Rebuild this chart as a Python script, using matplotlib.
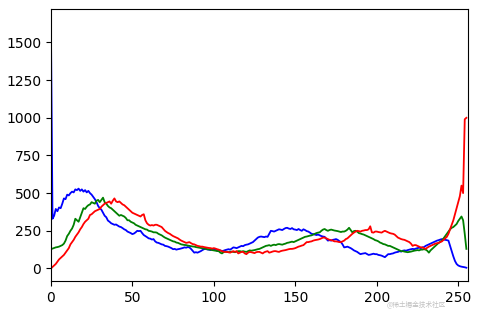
import numpy as np
import matplotlib
matplotlib.use("Agg")
import matplotlib.pyplot as plt

# per-channel histogram counts, bins 0..255
blue = [
    1640, 330, 350, 395, 380, 405, 400, 430, 465, 460, 490, 485, 500, 510, 505, 525,
    520, 530, 515, 525, 510, 520, 505, 515, 500, 490, 475, 460, 440, 415, 400, 390,
    370, 350, 340, 318, 310, 300, 295, 290, 292, 285, 278, 275, 268, 260, 255, 245,
    240, 235, 228, 232, 240, 250, 248, 250, 235, 222, 215, 208, 200, 198, 192, 195,
    180, 172, 170, 165, 160, 158, 150, 148, 145, 140, 135, 128, 130, 125, 128, 130,
    133, 136, 140, 138, 142, 140, 130, 118, 105, 108, 105, 110, 115, 122, 128, 130,
    126, 125, 122, 128, 130, 125, 118, 115, 120, 115, 118, 122, 125, 128, 125, 132,
    140, 138, 135, 140, 145, 150, 148, 155, 158, 160, 165, 170, 175, 185, 195, 205,
    210, 212, 210, 208, 212, 210, 230, 250, 248, 245, 250, 255, 260, 258, 255, 262,
    268, 270, 265, 262, 268, 260, 258, 255, 262, 255, 250, 260, 255, 248, 245, 238,
    230, 228, 225, 222, 225, 220, 215, 212, 210, 198, 185, 188, 185, 190, 192, 195,
    190, 182, 175, 160, 140, 142, 145, 140, 135, 128, 120, 115, 110, 102, 95, 98,
    100, 102, 96, 90, 92, 95, 98, 95, 95, 90, 88, 85, 80, 75, 85, 95,
    95, 98, 100, 105, 108, 110, 115, 112, 118, 120, 118, 122, 125, 128, 130, 128,
    132, 135, 138, 135, 140, 142, 150, 155, 160, 165, 170, 175, 180, 185, 188, 192,
    195, 192, 190, 188, 185, 150, 115, 80, 50, 30, 20, 15, 12, 10, 8, 5,
]
green = [
    128, 132, 136, 140, 142, 145, 150, 155, 165, 185, 215, 230, 250, 265, 290, 330,
    320, 310, 340, 370, 400, 395, 410, 420, 425, 440, 435, 430, 450, 455, 440, 455,
    470, 440, 430, 415, 405, 400, 390, 380, 370, 360, 350, 355, 350, 345, 335, 320,
    320, 310, 305, 300, 290, 285, 280, 275, 270, 265, 260, 258, 250, 248, 245, 240,
    240, 238, 230, 225, 220, 212, 205, 200, 195, 190, 185, 180, 178, 172, 170, 165,
    160, 158, 156, 155, 152, 150, 148, 146, 145, 142, 140, 138, 136, 135, 132, 130,
    128, 126, 125, 122, 120, 118, 116, 115, 105, 100, 108, 112, 110, 108, 110, 112,
    110, 108, 112, 115, 115, 112, 115, 112, 110, 115, 120, 118, 120, 122, 125, 128,
    130, 135, 140, 145, 150, 152, 155, 150, 155, 158, 155, 160, 162, 160, 158, 162,
    165, 170, 172, 175, 178, 175, 180, 185, 190, 195, 200, 205, 210, 212, 215, 218,
    220, 225, 230, 235, 238, 240, 250, 258, 262, 255, 250, 255, 258, 255, 252, 250,
    248, 245, 242, 245, 245, 250, 258, 270, 255, 240, 248, 250, 245, 235, 232, 228,
    225, 220, 215, 210, 205, 200, 195, 188, 185, 180, 172, 168, 162, 160, 155, 150,
    150, 145, 140, 135, 130, 125, 120, 115, 115, 112, 110, 108, 110, 112, 115, 118,
    120, 122, 120, 125, 125, 128, 125, 118, 105, 120, 130, 140, 150, 160, 170, 178,
    185, 200, 215, 230, 245, 260, 270, 275, 285, 295, 315, 330, 345, 320, 230, 130,
]
red = [
    0, 10, 20, 30, 45, 60, 70, 80, 90, 105, 120, 135, 160, 175, 190, 210,
    225, 240, 260, 275, 295, 310, 320, 330, 355, 360, 370, 380, 385, 390, 395, 410,
    420, 430, 435, 440, 445, 430, 450, 465, 445, 440, 445, 435, 425, 420, 410, 400,
    390, 380, 370, 365, 360, 355, 350, 345, 355, 360, 320, 300, 290, 285, 288, 285,
    290, 290, 285, 280, 275, 262, 250, 242, 235, 230, 222, 215, 210, 205, 200, 192,
    185, 180, 175, 170, 172, 175, 168, 162, 160, 155, 150, 148, 145, 145, 142, 140,
    138, 136, 135, 132, 135, 132, 128, 125, 120, 115, 112, 110, 110, 108, 105, 110,
    115, 110, 115, 100, 105, 110, 110, 100, 95, 105, 110, 108, 105, 102, 108, 110,
    110, 105, 100, 108, 112, 115, 105, 108, 112, 115, 115, 112, 110, 115, 118, 120,
    122, 125, 128, 130, 130, 132, 135, 140, 145, 148, 152, 155, 165, 175, 175, 178,
    180, 185, 188, 190, 192, 195, 200, 205, 205, 200, 195, 190, 188, 185, 180, 180,
    178, 175, 175, 180, 185, 195, 200, 210, 220, 230, 238, 245, 250, 248, 245, 250,
    252, 255, 255, 260, 280, 240, 238, 245, 245, 242, 240, 238, 245, 250, 245, 240,
    235, 232, 230, 225, 215, 205, 200, 195, 192, 190, 185, 180, 175, 165, 150, 155,
    155, 150, 145, 140, 140, 135, 130, 138, 145, 150, 155, 160, 165, 168, 170, 175,
    180, 190, 200, 210, 230, 260, 290, 320, 360, 400, 440, 480, 550, 500, 990, 1000,
]

channels = [("b", blue), ("g", green), ("r", red)]

fig = plt.figure(figsize=(4.8, 3.11), dpi=100)
ax = fig.add_axes([0.106, 0.097, 0.869, 0.874])

for col, hist in channels:
    ax.plot(np.arange(len(hist)), hist, color=col, linewidth=1.3)

ax.set_xlim([0, 256])
ax.tick_params(labelsize=10)

# site watermark, squeezed into the gap between the "200" and "250" tick labels
fig.text(0.928, 0.01, "@稀土掘金技术社区", ha="right", va="bottom",
         fontsize=4.8, color="#c0c0c0", family=["Noto Sans CJK SC", "DejaVu Sans"])

fig.savefig("out.png", dpi=100)
